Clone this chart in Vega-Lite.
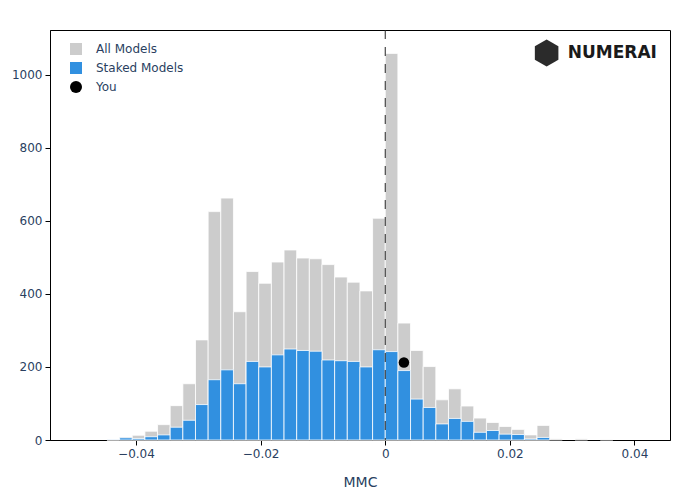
{
  "$schema": "https://vega.github.io/schema/vega-lite/v6.json",
  "width": 620,
  "height": 410,
  "autosize": {"type": "none"},
  "padding": {"left": 50, "top": 30, "right": 30, "bottom": 60},
  "background": "white",
  "config": {
    "font": "DejaVu Sans",
    "view": {"stroke": "#000000", "strokeWidth": 1},
    "axis": {
      "grid": false,
      "domainColor": "#000000",
      "tickColor": "#000000",
      "tickSize": 5,
      "labelColor": "#2a3f5f",
      "labelFont": "DejaVu Sans",
      "labelFontSize": 12,
      "titleColor": "#2a3f5f",
      "titleFont": "DejaVu Sans",
      "titleFontSize": 14,
      "titleFontWeight": "normal"
    },
    "legend": {
      "labelFont": "DejaVu Sans",
      "labelFontSize": 12,
      "labelColor": "#2a3f5f"
    }
  },
  "datasets": {
    "bins": [
      {"start": -0.04466, "end": -0.04263, "count": 2, "series": "All Models"},
      {"start": -0.04263, "end": -0.0406, "count": 8, "series": "All Models"},
      {"start": -0.0406, "end": -0.03857, "count": 13, "series": "All Models"},
      {"start": -0.03857, "end": -0.03654, "count": 24, "series": "All Models"},
      {"start": -0.03654, "end": -0.03451, "count": 42, "series": "All Models"},
      {"start": -0.03451, "end": -0.03248, "count": 94, "series": "All Models"},
      {"start": -0.03248, "end": -0.03045, "count": 154, "series": "All Models"},
      {"start": -0.03045, "end": -0.02842, "count": 274, "series": "All Models"},
      {"start": -0.02842, "end": -0.02639, "count": 625, "series": "All Models"},
      {"start": -0.02639, "end": -0.02436, "count": 662, "series": "All Models"},
      {"start": -0.02436, "end": -0.02233, "count": 351, "series": "All Models"},
      {"start": -0.02233, "end": -0.0203, "count": 461, "series": "All Models"},
      {"start": -0.0203, "end": -0.01827, "count": 429, "series": "All Models"},
      {"start": -0.01827, "end": -0.01624, "count": 487, "series": "All Models"},
      {"start": -0.01624, "end": -0.01421, "count": 520, "series": "All Models"},
      {"start": -0.01421, "end": -0.01218, "count": 498, "series": "All Models"},
      {"start": -0.01218, "end": -0.01015, "count": 496, "series": "All Models"},
      {"start": -0.01015, "end": -0.00812, "count": 480, "series": "All Models"},
      {"start": -0.00812, "end": -0.00609, "count": 446, "series": "All Models"},
      {"start": -0.00609, "end": -0.00406, "count": 432, "series": "All Models"},
      {"start": -0.00406, "end": -0.00203, "count": 408, "series": "All Models"},
      {"start": -0.00203, "end": 0, "count": 607, "series": "All Models"},
      {"start": 0, "end": 0.00203, "count": 1058, "series": "All Models"},
      {"start": 0.00203, "end": 0.00406, "count": 320, "series": "All Models"},
      {"start": 0.00406, "end": 0.00609, "count": 245, "series": "All Models"},
      {"start": 0.00609, "end": 0.00812, "count": 201, "series": "All Models"},
      {"start": 0.00812, "end": 0.01015, "count": 110, "series": "All Models"},
      {"start": 0.01015, "end": 0.01218, "count": 140, "series": "All Models"},
      {"start": 0.01218, "end": 0.01421, "count": 93, "series": "All Models"},
      {"start": 0.01421, "end": 0.01624, "count": 60, "series": "All Models"},
      {"start": 0.01624, "end": 0.01827, "count": 48, "series": "All Models"},
      {"start": 0.01827, "end": 0.0203, "count": 37, "series": "All Models"},
      {"start": 0.0203, "end": 0.02233, "count": 29, "series": "All Models"},
      {"start": 0.02233, "end": 0.02436, "count": 14, "series": "All Models"},
      {"start": 0.02436, "end": 0.02639, "count": 40, "series": "All Models"},
      {"start": 0.02639, "end": 0.02842, "count": 3, "series": "All Models"},
      {"start": 0.03045, "end": 0.03248, "count": 3, "series": "All Models"},
      {"start": 0.03451, "end": 0.03654, "count": 1, "series": "All Models"},
      {"start": -0.04466, "end": -0.04263, "count": 1, "series": "Staked Models"},
      {"start": -0.04263, "end": -0.0406, "count": 6, "series": "Staked Models"},
      {"start": -0.0406, "end": -0.03857, "count": 4, "series": "Staked Models"},
      {"start": -0.03857, "end": -0.03654, "count": 9, "series": "Staked Models"},
      {"start": -0.03654, "end": -0.03451, "count": 14, "series": "Staked Models"},
      {"start": -0.03451, "end": -0.03248, "count": 35, "series": "Staked Models"},
      {"start": -0.03248, "end": -0.03045, "count": 54, "series": "Staked Models"},
      {"start": -0.03045, "end": -0.02842, "count": 97, "series": "Staked Models"},
      {"start": -0.02842, "end": -0.02639, "count": 165, "series": "Staked Models"},
      {"start": -0.02639, "end": -0.02436, "count": 192, "series": "Staked Models"},
      {"start": -0.02436, "end": -0.02233, "count": 154, "series": "Staked Models"},
      {"start": -0.02233, "end": -0.0203, "count": 215, "series": "Staked Models"},
      {"start": -0.0203, "end": -0.01827, "count": 200, "series": "Staked Models"},
      {"start": -0.01827, "end": -0.01624, "count": 233, "series": "Staked Models"},
      {"start": -0.01624, "end": -0.01421, "count": 249, "series": "Staked Models"},
      {"start": -0.01421, "end": -0.01218, "count": 245, "series": "Staked Models"},
      {"start": -0.01218, "end": -0.01015, "count": 243, "series": "Staked Models"},
      {"start": -0.01015, "end": -0.00812, "count": 219, "series": "Staked Models"},
      {"start": -0.00812, "end": -0.00609, "count": 217, "series": "Staked Models"},
      {"start": -0.00609, "end": -0.00406, "count": 215, "series": "Staked Models"},
      {"start": -0.00406, "end": -0.00203, "count": 200, "series": "Staked Models"},
      {"start": -0.00203, "end": 0, "count": 247, "series": "Staked Models"},
      {"start": 0, "end": 0.00203, "count": 242, "series": "Staked Models"},
      {"start": 0.00203, "end": 0.00406, "count": 190, "series": "Staked Models"},
      {"start": 0.00406, "end": 0.00609, "count": 112, "series": "Staked Models"},
      {"start": 0.00609, "end": 0.00812, "count": 89, "series": "Staked Models"},
      {"start": 0.00812, "end": 0.01015, "count": 44, "series": "Staked Models"},
      {"start": 0.01015, "end": 0.01218, "count": 59, "series": "Staked Models"},
      {"start": 0.01218, "end": 0.01421, "count": 51, "series": "Staked Models"},
      {"start": 0.01421, "end": 0.01624, "count": 21, "series": "Staked Models"},
      {"start": 0.01624, "end": 0.01827, "count": 26, "series": "Staked Models"},
      {"start": 0.01827, "end": 0.0203, "count": 16, "series": "Staked Models"},
      {"start": 0.0203, "end": 0.02233, "count": 15, "series": "Staked Models"},
      {"start": 0.02233, "end": 0.02436, "count": 3, "series": "Staked Models"},
      {"start": 0.02436, "end": 0.02639, "count": 7, "series": "Staked Models"}
    ],
    "you": [
      {"mmc": 0.003, "count": 212, "series": "You"}
    ]
  },
  "layer": [
    {
      "data": {"name": "bins"},
      "mark": {"type": "rect", "stroke": "#ffffff", "strokeWidth": 0.8, "opacity": 1},
      "encoding": {
        "x": {
          "field": "start", "type": "quantitative",
          "scale": {"domain": [-0.0538, 0.0457], "nice": false, "zero": false},
          "axis": {
            "title": "MMC",
            "values": [-0.04, -0.02, 0, 0.02, 0.04],
            "labelExpr": "datum.value == 0 ? '0' : format(datum.value, '.2f')",
            "labelPadding": 3,
            "titlePadding": 16
          }
        },
        "x2": {"field": "end"},
        "y": {
          "field": "count", "type": "quantitative",
          "scale": {"domain": [0, 1122], "nice": false},
          "axis": {"title": null, "values": [0, 200, 400, 600, 800, 1000], "format": "d", "labelPadding": 3}
        },
        "y2": {"datum": 0},
        "color": {
          "field": "series", "type": "nominal",
          "scale": {"domain": ["All Models", "Staked Models", "You"], "range": ["#cccccc", "#3190e0", "#000000"]},
          "legend": {
            "title": null,
            "orient": "none",
            "legendX": 20,
            "legendY": 13,
            "padding": 0,
            "symbolSize": 144,
            "symbolStrokeWidth": 0,
            "labelOffset": 14,
            "rowPadding": 7
          }
        }
      }
    },
    {
      "data": {"name": "you"},
      "mark": {"type": "point", "filled": true, "opacity": 1, "size": 110},
      "encoding": {
        "x": {"field": "mmc", "type": "quantitative"},
        "y": {"field": "count", "type": "quantitative"},
        "color": {"field": "series", "type": "nominal"},
        "shape": {
          "field": "series", "type": "nominal",
          "scale": {"domain": ["All Models", "Staked Models", "You"], "range": ["square", "square", "circle"]}
        }
      }
    },
    {
      "data": {"values": [{}]},
      "mark": {"type": "rule", "color": "#222222", "strokeWidth": 1, "strokeDash": [9, 8]},
      "encoding": {"x": {"datum": 0}}
    },
    {
      "data": {"values": [{}]},
      "mark": {"type": "point", "filled": true, "color": "#2b2b2b", "opacity": 1, "size": 740,
               "shape": "M0,-1L0.866,-0.5L0.866,0.5L0,1L-0.866,0.5L-0.866,-0.5Z"},
      "encoding": {"x": {"datum": 0.0259}, "y": {"datum": 1059}}
    },
    {
      "data": {"values": [{}]},
      "mark": {"type": "text", "text": "NUMERAI", "align": "left", "baseline": "middle",
               "font": "DejaVu Sans", "fontSize": 17, "fontWeight": "bold", "color": "#1a1a1a"},
      "encoding": {"x": {"datum": 0.0293}, "y": {"datum": 1059}}
    }
  ]
}
